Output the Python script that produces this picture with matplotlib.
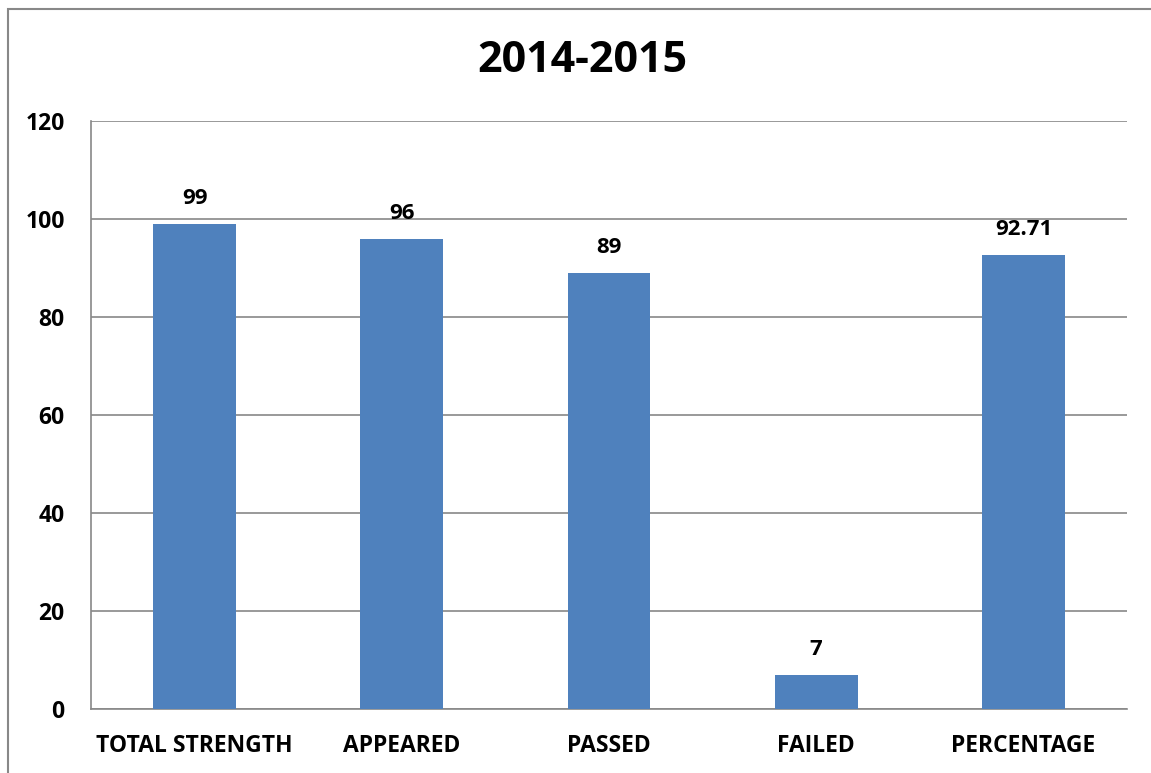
import matplotlib.pyplot as plt
from matplotlib.patches import Rectangle

categories = ["TOTAL STRENGTH", "APPEARED", "PASSED", "FAILED", "PERCENTAGE"]
values = [99, 96, 89, 7, 92.71]
value_labels = ["99", "96", "89", "7", "92.71"]
yticks = [0, 20, 40, 60, 80, 100, 120]

plt.rcParams['font.family'] = ['Open Sans', 'DejaVu Sans']
plt.rcParams['font.weight'] = 'bold'

fig = plt.figure(figsize=(11.51, 7.73), dpi=100)
ax = fig.add_axes([91 / 1151, 1 - 709 / 773, (1127 - 91) / 1151, (709 - 121) / 773])

# outer chart border (cut off at right and bottom like the original)
fig.patches.append(Rectangle((8 / 1151, -0.05), 1.2, 1 - 9 / 773 + 0.05,
                             transform=fig.transFigure, fill=False,
                             edgecolor='#888888', linewidth=1.5))

x = range(len(categories))
ax.bar(x, values, width=0.4, color='#4f81bd', zorder=3)
for i, (v, lab) in enumerate(zip(values, value_labels)):
    ax.text(i, v + 3, lab, ha='center', va='bottom', fontsize=16, fontweight='bold')

ax.set_xlim(-0.5, len(categories) - 0.5)
ax.set_ylim(0, 120)
ax.set_yticks(yticks)
ax.set_xticks(list(x))
ax.set_xticklabels(categories, fontweight='bold', fontsize=16.5)
ax.set_yticklabels([str(t) for t in yticks], fontweight='bold', fontsize=16.5)
ax.tick_params(length=0, pad=18)
ax.tick_params(axis='y', pad=19)
ax.grid(axis='y', color='#888888', linewidth=1.2, zorder=0)
for s in ['top', 'right']:
    ax.spines[s].set_visible(False)
for s in ['left', 'bottom']:
    ax.spines[s].set_color('#888888')
    ax.spines[s].set_linewidth(1.2)

fig.text(582 / 1151, 1 - 60 / 773, "2014-2015", ha='center', va='center',
         fontsize=31, fontweight='bold')

fig.savefig("out.png", dpi=100)
